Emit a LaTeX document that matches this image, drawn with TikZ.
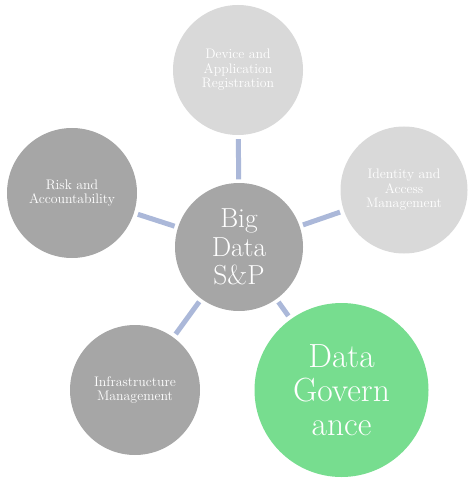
\documentclass[tikz,border=0pt]{standalone}
\usepackage{tikz}
\usetikzlibrary{positioning}

\definecolor{hubgray}{HTML}{A6A6A6}
\definecolor{lightgray}{HTML}{D9D9D9}
\definecolor{govgreen}{HTML}{77DD8F}
\definecolor{linkblue}{HTML}{ABB8D9}

\begin{document}
\begin{tikzpicture}[
    x=1pt, y=-1pt,
    hub/.style={
        circle,
        fill=hubgray,
        minimum size=128pt,
        inner sep=0pt,
        align=center,
        text=white,
        font=\fontsize{27.5}{28.5}\selectfont
    },
    spoke/.style={
        circle,
        fill=hubgray,
        minimum size=130pt,
        inner sep=0pt,
        align=center,
        text=white,
        font=\fontsize{13.8}{14.5}\selectfont
    },
    spokeL/.style={
        spoke,
        fill=lightgray
    },
    focus/.style={
        circle,
        fill=govgreen,
        minimum size=174pt,
        inner sep=0pt,
        align=center,
        text=white,
        font=\fontsize{33.5}{34}\selectfont
    },
    link/.style={
        draw=linkblue,
        line width=5pt,
        shorten <=3.5pt,
        shorten >=4pt
    },
]
\useasboundingbox (0,0) rectangle (469,478);

% nodes
\node[hub] (hub) at (239,247) {Big\\Data\\S\&P};

\node[spokeL] (device) at (238,70)
    {Device and\\Application\\Registration};

\node[spokeL, minimum size=127pt] (identity) at (404,190)
    {Identity and\\Access\\Management};

\node[spoke] (risk) at (72,193)
    {Risk and\\Accountability};

\node[spoke] (infra) at (135,390)
    {Infrastructure\\Management};

\node[focus] (gov) at (341.5,390)
    {Data\\Govern\\ance};

% connectors
\draw[link] (hub) -- (device);
\draw[link] (hub) -- (identity);
\draw[link] (hub) -- (risk);
\draw[link] (hub) -- (infra);
\draw[link] (hub) -- (gov);

\end{tikzpicture}
\end{document}
